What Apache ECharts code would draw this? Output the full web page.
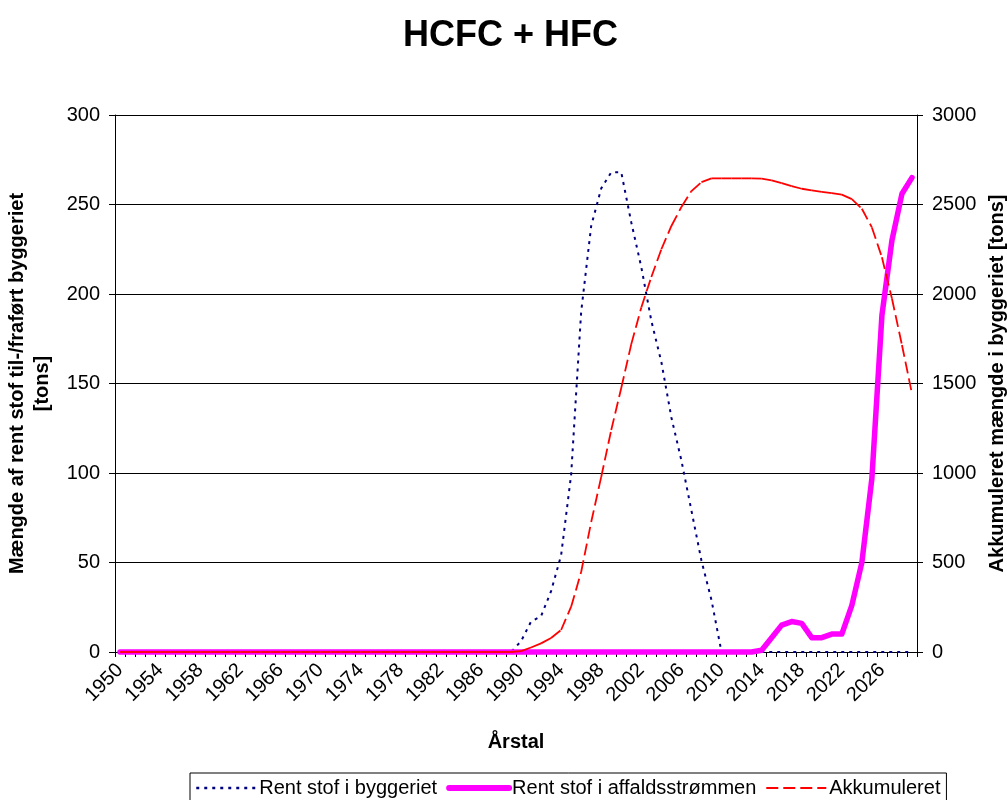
<!DOCTYPE html>
<html>
<head>
<meta charset="utf-8">
<title>HCFC + HFC</title>
<script src="https://cdn.jsdelivr.net/npm/echarts@6/dist/echarts.min.js"></script>
<style>
  html, body { margin: 0; padding: 0; background: #ffffff; }
  #chart { width: 1007px; height: 800px; }
</style>
</head>
<body>
<div id="chart"></div>
<script>
// Year categories on the x axis
const years = [
  '1950','1951','1952','1953','1954','1955','1956','1957','1958','1959',
  '1960','1961','1962','1963','1964','1965','1966','1967','1968','1969',
  '1970','1971','1972','1973','1974','1975','1976','1977','1978','1979',
  '1980','1981','1982','1983','1984','1985','1986','1987','1988','1989',
  '1990','1991','1992','1993','1994','1995','1996','1997','1998','1999',
  '2000','2001','2002','2003','2004','2005','2006','2007','2008','2009',
  '2010','2011','2012','2013','2014','2015','2016','2017','2018','2019',
  '2020','2021','2022','2023','2024','2025','2026','2027','2028','2029'
];

// Pure substance added to buildings per year [tons] (left axis)
const byggeriet = [
  0,0,0,0,0,0,0,0,0,0,
  0,0,0,0,0,0,0,0,0,0,
  0,0,0,0,0,0,0,0,0,0,
  0,0,0,0,0,0,0,0,0,0,
  6,17,20,34,54,99,190,238,259,268,
  268,240,215,185,162,131,107,79,51,29,
  0,0,0,0,0,0,0,0,0,0,
  0,0,0,0,0,0,0,0,0,0
];

// Pure substance in the waste stream per year [tons] (left axis)
const affald = [
  0,0,0,0,0,0,0,0,0,0,
  0,0,0,0,0,0,0,0,0,0,
  0,0,0,0,0,0,0,0,0,0,
  0,0,0,0,0,0,0,0,0,0,
  0,0,0,0,0,0,0,0,0,0,
  0,0,0,0,0,0,0,0,0,0,
  0,0,0,0,1,8,15,17,16,8,
  8,10,10,26,50,97,188,230,256,265
];

// Accumulated amount in buildings [tons] (right axis)
const akkumuleret = [
  0,0,0,0,0,0,0,0,0,0,
  0,0,0,0,0,0,0,0,0,0,
  0,0,0,0,0,0,0,0,0,0,
  0,0,0,0,0,0,0,0,0,0,
  5,25,48,78,123,253,447,726,978,1240,
  1475,1720,1925,2095,2250,2380,2486,2575,2625,2646,
  2646,2646,2646,2646,2644,2635,2620,2603,2588,2579,
  2571,2563,2555,2530,2476,2372,2205,1975,1715,1443
];

const leftTicks = [0, 50, 100, 150, 200, 250, 300];
const rightTicks = [0, 500, 1000, 1500, 2000, 2500, 3000];

const FONT = "'Liberation Sans', Arial, sans-serif";

// Segment list for the accumulated line: each segment starts its own dash pattern
const akkSegments = [];
for (let i = 0; i < akkumuleret.length - 1; i++) {
  akkSegments.push([i, akkumuleret[i], akkumuleret[i + 1]]);
}

const chart = echarts.init(document.getElementById('chart'), null, { renderer: 'canvas' });

chart.setOption({
  animation: false,
  backgroundColor: '#ffffff',
  textStyle: { fontFamily: FONT, color: '#000' },
  title: {
    text: 'HCFC + HFC',
    left: 398,
    top: 13,
    textStyle: { fontFamily: FONT, fontSize: 36, fontWeight: 'bold', color: '#000' }
  },
  legend: {
    left: 190,
    top: 773,
    padding: [5, 6, 8, 5],
    itemGap: 9,
    itemWidth: 60,
    itemHeight: 14,
    borderColor: '#000',
    borderWidth: 1,
    borderRadius: 0,
    itemStyle: { opacity: 0 },
    textStyle: { fontFamily: FONT, fontSize: 20, color: '#000', padding: [0, 0, 0, -2] },
    data: [
      { name: 'Rent stof i byggeriet', lineStyle: { width: 2.5 } },
      { name: 'Rent stof i affaldsstrømmen', lineStyle: { width: 6 } },
      { name: 'Akkumuleret', lineStyle: { width: 2 } }
    ]
  },
  grid: { left: 115, right: 90, top: 115, bottom: 148, outerBoundsMode: 'none', containLabel: false },
  xAxis: {
    type: 'category',
    data: years,
    boundaryGap: true,
    name: 'Årstal',
    nameLocation: 'middle',
    nameGap: 80,
    nameTextStyle: { fontFamily: FONT, fontSize: 20, fontWeight: 'bold', color: '#000' },
    axisLine: { show: true, lineStyle: { color: '#000', width: 1 } },
    axisTick: { show: true, interval: 0, length: 5, inside: false, lineStyle: { color: '#000' } },
    axisLabel: {
      interval: 3,
      rotate: 45,
      margin: 15,
      fontFamily: FONT,
      fontSize: 20,
      color: '#000'
    },
    splitLine: { show: false }
  },
  yAxis: [
    {
      type: 'value',
      min: leftTicks[0],
      max: leftTicks[leftTicks.length - 1],
      interval: leftTicks[1] - leftTicks[0],
      position: 'left',
      name: 'Mængde af rent stof til-/fraført byggeriet\n[tons]',
      nameLocation: 'middle',
      nameRotate: 90,
      nameGap: 60,
      nameTextStyle: { fontFamily: FONT, fontSize: 20, fontWeight: 'bold', color: '#000', lineHeight: 25 },
      axisLine: { show: true, lineStyle: { color: '#000', width: 1 } },
      axisTick: { show: true, length: 6, inside: false, lineStyle: { color: '#000' } },
      axisLabel: { margin: 15, fontFamily: FONT, fontSize: 20, color: '#000' },
      splitLine: { show: true, lineStyle: { color: '#000', width: 1 } }
    },
    {
      type: 'value',
      min: rightTicks[0],
      max: rightTicks[rightTicks.length - 1],
      interval: rightTicks[1] - rightTicks[0],
      position: 'right',
      name: 'Akkumuleret mængde i byggeriet [tons]',
      nameLocation: 'middle',
      nameRotate: 90,
      nameGap: 69,
      nameTextStyle: { fontFamily: FONT, fontSize: 20, fontWeight: 'bold', color: '#000' },
      axisLine: { show: true, lineStyle: { color: '#000', width: 1 } },
      axisTick: { show: true, length: 6, inside: false, lineStyle: { color: '#000' } },
      axisLabel: {
        margin: 15, fontFamily: FONT, fontSize: 20, color: '#000',
        formatter: function (v) { return String(v); }
      },
      splitLine: { show: false }
    }
  ],
  series: [
    {
      name: 'Rent stof i byggeriet',
      type: 'line',
      data: byggeriet,
      yAxisIndex: 0,
      symbol: 'none',
      clip: false,
      z: 2,
      itemStyle: { color: '#000080' },
      lineStyle: { color: '#000080', width: 2, type: [3, 5] }
    },
    {
      name: 'Rent stof i affaldsstrømmen',
      type: 'line',
      data: affald,
      yAxisIndex: 0,
      symbol: 'none',
      clip: false,
      z: 3,
      itemStyle: { color: '#ff00ff' },
      lineStyle: { color: '#ff00ff', width: 5.5, cap: 'round', join: 'round' }
    },
    {
      // legend entry for the accumulated line
      name: 'Akkumuleret',
      type: 'line',
      data: [],
      yAxisIndex: 1,
      symbol: 'none',
      itemStyle: { color: '#ff0000' },
      lineStyle: { color: '#ff0000', width: 2, type: [12, 5] }
    },
    {
      name: 'Akkumuleret',
      type: 'custom',
      yAxisIndex: 1,
      z: 4,
      data: akkSegments,
      encode: { x: 0, y: [1, 2] },
      itemStyle: { color: '#ff0000' },
      renderItem: function (params, api) {
        const i = api.value(0);
        const p0 = api.coord([i, api.value(1)]);
        const p1 = api.coord([i + 1, api.value(2)]);
        return {
          type: 'line',
          shape: { x1: p0[0], y1: p0[1], x2: p1[0], y2: p1[1] },
          style: { stroke: '#ff0000', lineWidth: 1.8, lineDash: [12, 5], fill: null }
        };
      }
    }
  ]
});
</script>
</body>
</html>
